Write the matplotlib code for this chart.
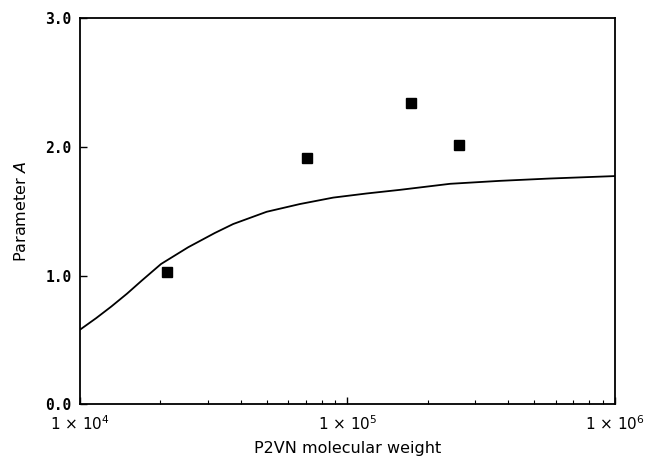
import matplotlib.pyplot as plt
import numpy as np
from matplotlib.ticker import FixedLocator, NullFormatter

# Measured points: P2VN molecular weight vs parameter A
mw_points = [2.12e4, 7.08e4, 1.73e5, 2.62e5]
a_points = [1.03, 1.91, 2.34, 2.01]

# Theoretical curve
mw_curve = [1.0e4, 1.15e4, 1.31e4, 1.50e4, 1.70e4, 2.01e4, 2.54e4, 3.19e4, 3.74e4,
            4.99e4, 6.64e4, 8.85e4, 1.18e5, 1.57e5, 2.42e5, 3.72e5, 5.71e5, 1.0e6]
a_curve = [0.58, 0.67, 0.76, 0.86, 0.96, 1.09, 1.22, 1.33, 1.40,
           1.495, 1.555, 1.605, 1.637, 1.665, 1.712, 1.735, 1.753, 1.772]

x_ticks = [1e4, 1e5, 1e6]
x_tick_labels = [r'1 $\times$ 10$^{4}$', r'1 $\times$ 10$^{5}$', r'1 $\times$ 10$^{6}$']
y_ticks = [0.0, 1.0, 2.0, 3.0]
y_tick_labels = ['0.0', '1.0', '2.0', '3.0']

fig = plt.figure(figsize=(6.5, 4.62), dpi=100)
ax = fig.add_axes([0.123, 0.1245, 0.823, 0.837])

ax.plot(mw_curve, a_curve, color='black', linewidth=1.3)
ax.plot(mw_points, a_points, linestyle='none', marker='s', markersize=6.5,
        color='black')

ax.set_xscale('log')
ax.set_xlim(1e4, 1e6)
ax.set_ylim(0, 3.0)

ax.set_xticks(x_ticks)
ax.set_xticklabels(x_tick_labels)
minors = [m * 10 ** e for e in (4, 5) for m in range(2, 10)]
ax.xaxis.set_minor_locator(FixedLocator(minors))
ax.xaxis.set_minor_formatter(NullFormatter())
ax.set_yticks(y_ticks)
ax.set_yticklabels(y_tick_labels)

ax.tick_params(axis='both', which='major', direction='in', length=5, width=1,
               labelsize=11, top=False, right=False)
ax.tick_params(axis='x', which='major', pad=7)
ax.tick_params(axis='y', which='major', pad=6, labelsize=10.5)
ax.tick_params(axis='x', which='minor', direction='in', length=3, width=0.8,
               top=False)
for lbl in ax.get_yticklabels():
    lbl.set_fontweight('bold')
    lbl.set_family('DejaVu Sans Mono')

for s in ax.spines.values():
    s.set_linewidth(1.3)

ax.set_xlabel('P2VN molecular weight', fontsize=11.5, labelpad=6)
ax.set_ylabel(r'Parameter $\it{A}$', fontsize=11.5, labelpad=12)

plt.savefig('out.png', dpi=100)
